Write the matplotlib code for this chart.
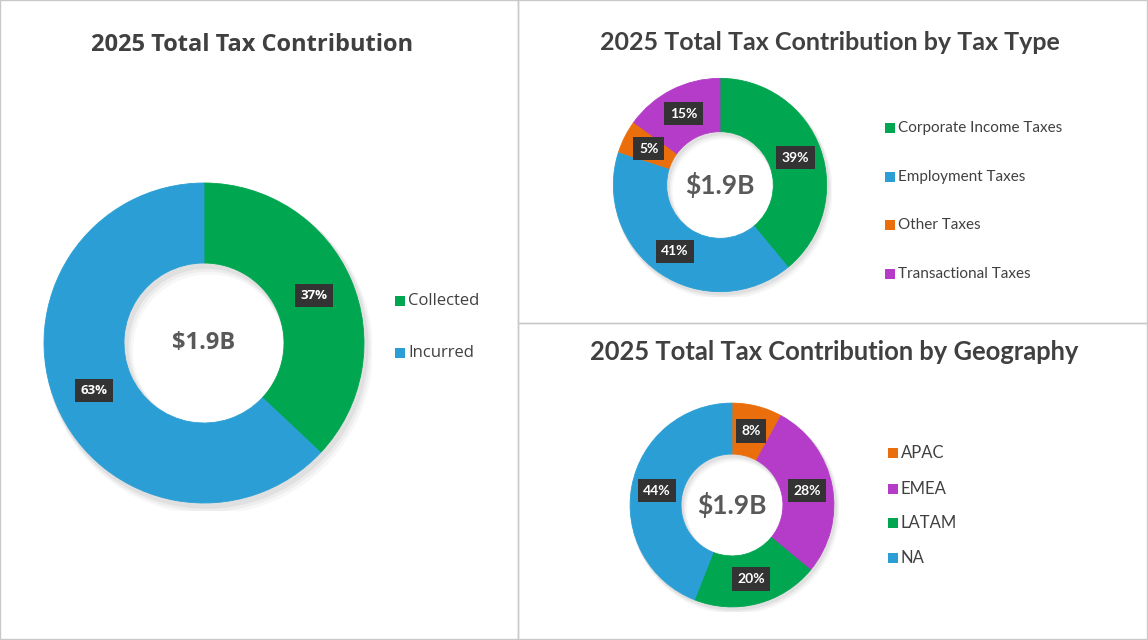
import matplotlib
matplotlib.use("Agg")
import matplotlib.pyplot as plt
from matplotlib.patches import Rectangle, Wedge
import numpy as np

plt.rcParams['font.family'] = ['Lato', 'DejaVu Sans']

# data
total_label = "$1.9B"
overall_labels = ["Collected", "Incurred"]
overall_pct = [37, 63]
type_labels = ["Corporate Income Taxes", "Employment Taxes", "Other Taxes", "Transactional Taxes"]
type_pct = [39, 41, 5, 15]
geo_labels = ["APAC", "EMEA", "LATAM", "NA"]
geo_pct = [8, 28, 20, 44]

GREEN = "#00a650"
BLUE = "#2b9fd5"
ORANGE = "#ea6f0c"
PURPLE = "#b43cc8"
TEXT = "#404040"

W, H = 1148, 640
fig = plt.figure(figsize=(W / 100, H / 100), dpi=100)
fig.patch.set_facecolor("white")


def fx(x):
    return x / W


def fy(y):
    return 1 - y / H


def panel(x0, y0, x1, y1):
    fig.patches.append(Rectangle((fx(x0), fy(y1)), fx(x1 - x0), (y1 - y0) / H,
                                 transform=fig.transFigure, fill=False,
                                 ec="#c9c9c9", lw=1.0))


def donut(cx, cy, r, values, colors, fs_center, fs_lab, family):
    ax = fig.add_axes([fx(cx - r), fy(cy + r), 2 * r / W, 2 * r / H])
    # soft shadow ring behind the donut
    for k, a in [(4, 0.03), (3, 0.04), (2, 0.05)]:
        ring = Wedge((0.008 * k, -0.012 * k), 1.0 + 0.006 * k, 0, 360, width=0.5 + 0.012 * k,
                     fc="black", ec="none", alpha=a)
        ax.add_patch(ring)
    ax.pie(values, colors=colors, startangle=90, counterclock=False,
           radius=1.0, wedgeprops=dict(width=0.5, linewidth=0.6))
    for w, c in zip(ax.patches[3:], colors):
        w.set_edgecolor(c)
    total = sum(values)
    start = 90.0
    for v in values:
        mid = np.deg2rad(start - 360.0 * v / total / 2)
        start -= 360.0 * v / total
        ax.text(0.75 * np.cos(mid), 0.75 * np.sin(mid), f"{v}%", ha="center", va="center",
                color="white", fontsize=fs_lab, fontweight="bold", family=family,
                bbox=dict(boxstyle="square,pad=0.4", fc="#333333", ec="none"))
    ax.text(0, 0, total_label, ha="center", va="center", color="#595959",
            fontsize=fs_center, fontweight="bold", family=family)
    ax.set_xlim(-1.05, 1.05)
    ax.set_ylim(-1.05, 1.05)
    ax.set_aspect("equal")
    ax.axis("off")


def legend(x, ys, labels, colors, fs, family):
    for y, lab, c in zip(ys, labels, colors):
        fig.patches.append(Rectangle((fx(x), fy(y + 5)), 10 / W, 10 / H,
                                     transform=fig.transFigure, fc=c, ec="none"))
        fig.text(fx(x + 13), fy(y), lab, ha="left", va="center", fontsize=fs, color=TEXT,
                 family=family)


panel(0, 0, 518, 639)
panel(518, 0, 1147, 323)
panel(518, 323, 1147, 639)

wide = ["Open Sans", "DejaVu Sans"]
narrow = ["Lato", "DejaVu Sans"]

# left panel
fig.text(fx(252), fy(45), "2025 Total Tax Contribution", ha="center", va="center",
         fontsize=17, fontweight="bold", color=TEXT, family=wide)
donut(204, 343, 168, overall_pct, [GREEN, BLUE], 17, 9.5, wide)
legend(395, [301, 353], overall_labels, [GREEN, BLUE], 12, wide)

# top right panel
fig.text(fx(830), fy(43), "2025 Total Tax Contribution by Tax Type", ha="center", va="center",
         fontsize=18, fontweight="bold", color=TEXT, family=narrow)
donut(720, 185, 112, type_pct, [GREEN, BLUE, ORANGE, PURPLE], 19, 10, narrow)
legend(885, [128, 177, 225, 274], type_labels, [GREEN, BLUE, ORANGE, PURPLE], 11, narrow)

# bottom right panel
fig.text(fx(834), fy(352), "2025 Total Tax Contribution by Geography", ha="center", va="center",
         fontsize=18.4, fontweight="bold", color=TEXT, family=narrow)
donut(732, 505, 107, geo_pct, [ORANGE, PURPLE, GREEN, BLUE], 19, 10, narrow)
legend(888, [453, 489, 523, 558], geo_labels, [ORANGE, PURPLE, GREEN, BLUE], 12, narrow)

fig.savefig("out.png", dpi=100, facecolor="white")
